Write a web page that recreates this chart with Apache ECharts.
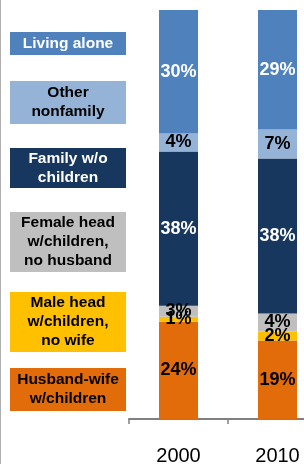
<!DOCTYPE html>
<html>
<head>
<meta charset="utf-8">
<script src="https://cdn.jsdelivr.net/npm/echarts@6/dist/echarts.min.js"></script>
<style>
html,body{margin:0;padding:0;background:#fff;}
#main{width:304px;height:464px;}
</style>
</head>
<body>
<div id="main"></div>
<script>
// 年份
var years = ['2000', '2010'];
// 从下往上堆叠
var types = ['Husband-wife w/children', 'Male head w/children, no wife', 'Female head w/children, no husband', 'Family w/o children', 'Other nonfamily', 'Living alone'];
var legendText = ['Husband-wife\nw/children', 'Male head\nw/children,\nno wife', 'Female head\nw/children,\nno husband', 'Family w/o\nchildren', 'Other\nnonfamily', 'Living alone'];
var husbandWife = [23.8, 19.2];
var maleHead = [1.2, 2.2];
var femaleHead = [2.7, 4.4];
var familyNoKids = [37.7, 37.9];
var otherNonfamily = [4.4, 7.1];
var livingAlone = [30.2, 29.2];

var values = [husbandWife, maleHead, femaleHead, familyNoKids, otherNonfamily, livingAlone];
var colors = ['#E36C0A', '#FFC000', '#BFBFBF', '#17375E', '#95B3D7', '#4F81BD'];
var labelColors = ['#000', '#000', '#000', '#fff', '#000', '#fff'];
// 图例方块 [top, height]
var boxes = [[368, 43], [292, 60], [212, 60], [148, 40], [81, 43], [32, 23]];

var series = [];
for (var key = 0; key < types.length; key++) {
	series.push({
		name: types[key],
		type: 'bar',
		stack: 'all',
		barWidth: 39,
		data: values[key],
		itemStyle: {color: colors[key]},
		label: {
			show: true,
			position: 'inside',
			color: labelColors[key],
			fontFamily: 'Liberation Sans, Arial',
			fontWeight: 'bold',
			fontSize: 18,
			formatter: function (p) { return Math.round(p.value) + '%'; }
		}
	});
}

var graphics = [{
	type: 'line',
	shape: {x1: 0.5, y1: 0, x2: 0.5, y2: 464},
	style: {stroke: '#b0b0b0', lineWidth: 1}
}];
for (var key = 0; key < types.length; key++) {
	graphics.push({
		type: 'rect',
		shape: {x: 10, y: boxes[key][0], width: 116, height: boxes[key][1]},
		style: {fill: colors[key]}
	});
	graphics.push({
		type: 'text',
		x: 68,
		y: boxes[key][0] + boxes[key][1] / 2,
		style: {
			text: legendText[key],
			fill: labelColors[key],
			font: 'bold 15.5px "Liberation Sans", Arial',
			lineHeight: 19,
			align: 'center',
			verticalAlign: 'middle'
		}
	});
}

var myChart = echarts.init(document.getElementById('main'));
var option = {
	animation: false,
	grid: {left: 129, right: -23, top: 10, bottom: 45, containLabel: false, outerBoundsMode: 'none'},
	xAxis: {
		type: 'category',
		data: years,
		axisLine: {lineStyle: {color: '#808080', width: 2}},
		axisTick: {show: true, length: 5, lineStyle: {color: '#808080', width: 1.5}},
		axisLabel: {color: '#000', fontSize: 20, fontFamily: 'Liberation Sans, Arial', margin: 27}
	},
	yAxis: {
		type: 'value',
		min: 0,
		max: 100,
		show: false
	},
	series: series,
	graphic: graphics
};
myChart.setOption(option);
</script>
</body>
</html>
